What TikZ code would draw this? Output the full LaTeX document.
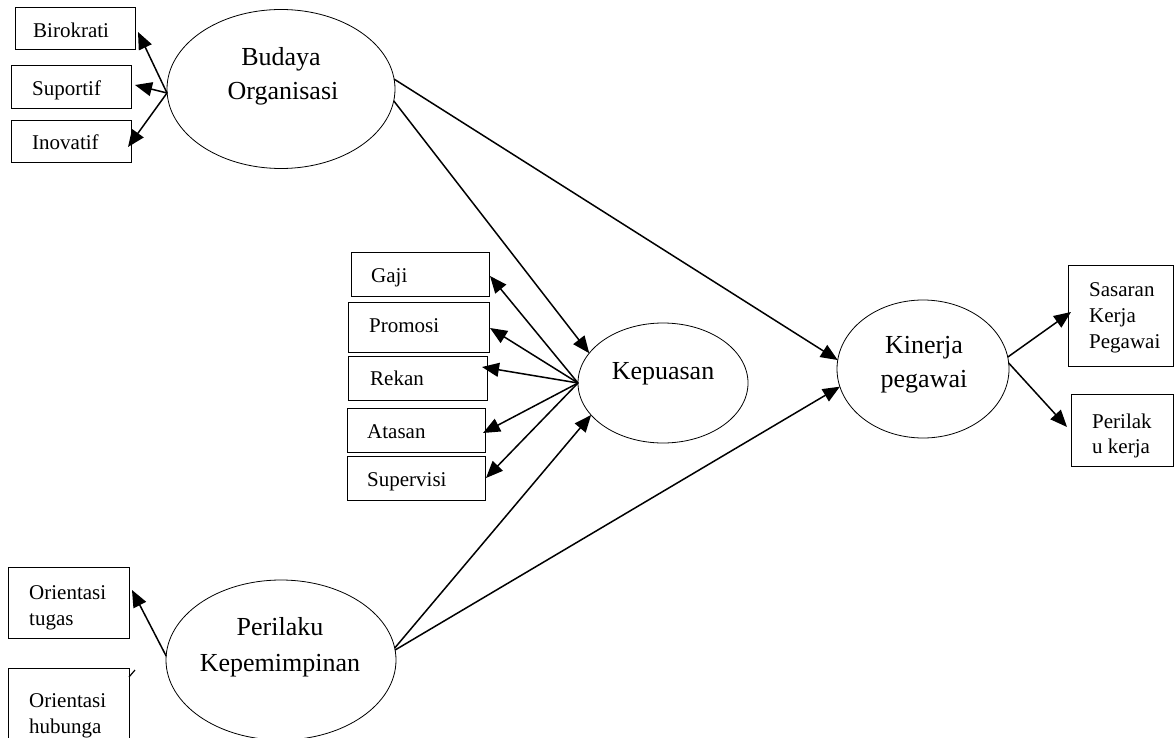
\documentclass[tikz,border=0pt]{standalone}
\usepackage{fontspec}
\setmainfont{Liberation Serif}
\usetikzlibrary{shapes.geometric,arrows.meta}
\tikzset{
  box/.style={draw, line width=0.8pt, inner sep=0pt, outer sep=0pt},
  ell/.style={draw, ellipse, line width=0.8pt, inner sep=0pt, outer sep=0pt},
  small/.style={inner sep=0pt, anchor=base west, font=\fontsize{21}{26}\selectfont},
  big/.style={inner sep=0pt, anchor=base, font=\fontsize{26}{34}\selectfont},
  arr/.style={line width=1.5pt, -{Triangle[length=17pt,width=14pt]}},
  stub/.style={line width=1.2pt}
}
\begin{document}
\begin{tikzpicture}[x=1pt,y=-1pt]
\useasboundingbox (0,0) rectangle (1174,738);
% ellipses
\node[ell, minimum width=228, minimum height=159] (bo) at (281,89) {};
\node[ell, minimum width=170, minimum height=120] (kp) at (663,383) {};
\node[ell, minimum width=172, minimum height=138] (kn) at (923,369) {};
\node[ell, minimum width=230, minimum height=160] (pk) at (281,660) {};
\node[big] (bo1) at (281,66) {Budaya};
\node[big] (bo2) at (283,100) {Organisasi};
\node[big] (kp1) at (663,379) {Kepuasan};
\node[big] (kn1) at (924,353) {Kinerja};
\node[big] (kn2) at (924,387) {pegawai};
\node[big] (pk1) at (280,635) {Perilaku};
\node[big] (pk2) at (280,671) {Kepemimpinan};
% boxes
\node[box, minimum width=120, minimum height=42] (bir) at (75,28) {};
\node[box, minimum width=120, minimum height=43] (sup) at (71,86.5) {};
\node[box, minimum width=120, minimum height=42] (ino) at (71,141) {};
\node[box, minimum width=138, minimum height=44] (gaji) at (420,274) {};
\node[box, minimum width=141, minimum height=50] (prom) at (418.5,327) {};
\node[box, minimum width=139, minimum height=44] (rek) at (417.5,378) {};
\node[box, minimum width=138, minimum height=44] (ata) at (416,430) {};
\node[box, minimum width=138, minimum height=44] (supv) at (416,478) {};
\node[box, minimum width=121, minimum height=71] (ot) at (68.5,602.5) {};
\node[box, minimum width=121, minimum height=77] (oh) at (68.5,706.5) {};
\node[box, minimum width=105, minimum height=101] (sas) at (1120.5,315.5) {};
\node[box, minimum width=102, minimum height=72] (pkj) at (1122,430) {};
% box texts
\node[small] (tbir) at (33,38) {Birokrati};
\node[small] (tsup) at (32,96) {Suportif};
\node[small] (tino) at (32,150) {Inovatif};
\node[small] (tgaji) at (371,282) {Gaji};
\node[small] (tprom) at (369,332) {Promosi};
\node[small] (trek) at (370,385) {Rekan};
\node[small] (tata) at (367,438) {Atasan};
\node[small] (tsupv) at (367,486) {Supervisi};
\node[small] (tot1) at (29,599) {Orientasi};
\node[small] (tot2) at (29,625) {tugas};
\node[small] (toh1) at (29,707) {Orientasi};
\node[small] (toh2) at (29,733) {hubunga};
\node[small] (tsas1) at (1089,296) {Sasaran};
\node[small] (tsas2) at (1089,322) {Kerja};
\node[small] (tsas3) at (1089,348) {Pegawai};
\node[small] (tpkj1) at (1092,428) {Perilak};
\node[small] (tpkj2) at (1092,453) {u kerja};
% connectors
\draw[arr] ([shift={(0,4)}]bo.west) -- ([shift={(3,4)}]bir.east);
\draw[arr] ([shift={(0,4)}]bo.west) -- ([shift={(4,-1.5)}]sup.east);
\draw[arr] ([shift={(0,4)}]bo.west) -- ([shift={(-3,6)}]ino.east);
\draw[arr] (bo.5) -- (kn.174);
\draw[arr] (bo.-6.5) -- (kp.158);
\draw[arr] (kp.west) -- ([shift={(1,2)}]gaji.east);
\draw[arr] (kp.west) -- ([shift={(1,1)}]prom.east);
\draw[arr] (kp.west) -- ([shift={(-5,-11)}]rek.east);
\draw[arr] (kp.west) -- ([shift={(-2,3)}]ata.east);
\draw[arr] (kp.west) -- ([shift={(1,0)}]supv.east);
\draw[arr] (pk.6.6) -- (kp.204);
\draw[arr] (pk.5.5) -- (kn.192);
\draw[arr] (pk.178) -- ([shift={(3,-12.5)}]ot.east);
\draw[stub] ([shift={(0,9)}]oh.north east) -- ([shift={(6,2)}]oh.north east);
\draw[arr] (kn.8) -- ([shift={(3,-3.5)}]sas.west);
\draw[arr] (kn.4.7) -- ([shift={(-4,-3)}]pkj.west);
\end{tikzpicture}
\end{document}
